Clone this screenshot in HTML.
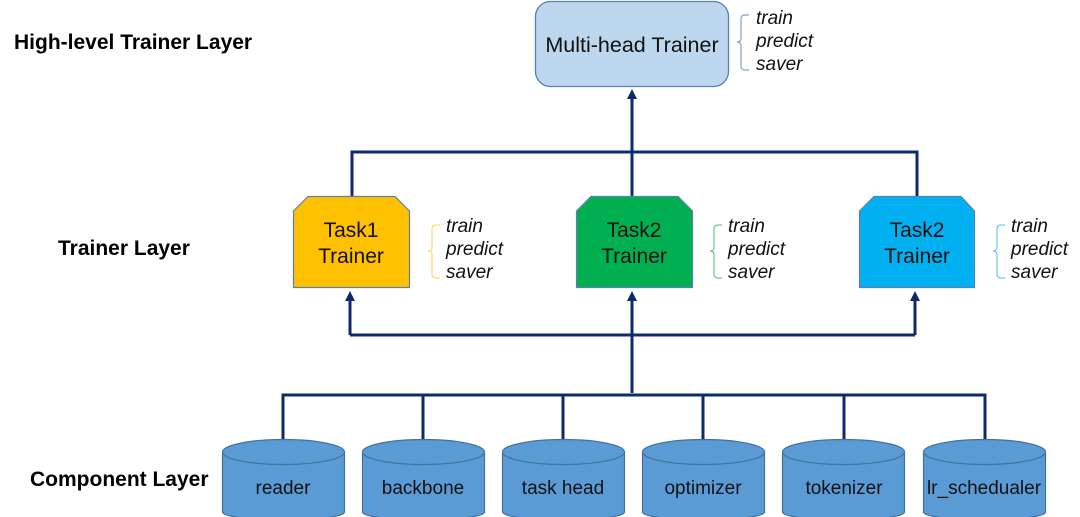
<!DOCTYPE html>
<html><head><meta charset="utf-8"><style>
html,body{margin:0;padding:0;background:#fff;width:1080px;height:517px;overflow:hidden}
svg{display:block}
text{font-family:"Liberation Sans",Arial,sans-serif}
</style></head><body>
<svg width="1080" height="517" viewBox="0 0 1080 517" xmlns="http://www.w3.org/2000/svg">
<defs>
<marker id="ar" markerWidth="10" markerHeight="10" refX="5" refY="5" orient="auto" markerUnits="userSpaceOnUse">
<path d="M0,0 L10,5 L0,10 z" fill="#0f2a6b"/>
</marker>
</defs>
<g font-weight="bold" font-size="21" fill="#000">
<text x="14" y="49">High-level Trainer Layer</text>
<text x="58" y="255">Trainer Layer</text>
<text x="30" y="486">Component Layer</text>
</g>
<rect x="535.5" y="1.5" width="193" height="85" rx="15" fill="#bdd7ee" stroke="#5b7fb0" stroke-width="1.3"/>
<text x="632" y="52" font-size="21.5" text-anchor="middle" fill="#111">Multi-head Trainer</text>
<g stroke="#0f2a6b" stroke-width="3" fill="none">
<path d="M352,196 V152 H917 V196"/>
<path d="M632,196 V94" marker-end="url(#ar)"/>
<path d="M350,335 H915"/>
<path d="M350,335 V296" marker-end="url(#ar)"/>
<path d="M915,335 V296" marker-end="url(#ar)"/>
<path d="M632,393 V296" marker-end="url(#ar)"/>
<path d="M283,440 V395 H985 V440"/>
<path d="M423,395 V440 M563,395 V440 M703,395 V440 M844,395 V440"/>
</g>
<g stroke="#5b7fb0" stroke-width="1.2">
<path d="M293.5,211 L308,196.5 H395 L409.5,211 V287.5 H293.5 Z" fill="#ffc000"/>
<path d="M576.5,211 L591,196.5 H678 L692.5,211 V287.5 H576.5 Z" fill="#00b050"/>
<path d="M859.5,211 L874,196.5 H961 L974.5,211 V287.5 H859.5 Z" fill="#00b0f0"/>
</g>
<g font-size="21" text-anchor="middle" fill="#111">
<text x="351" y="237">Task1</text><text x="351" y="263">Trainer</text>
<text x="634" y="237">Task2</text><text x="634" y="263">Trainer</text>
<text x="917" y="237">Task2</text><text x="917" y="263">Trainer</text>
</g>
<g fill="none" stroke-width="1.2">
<path d="M749,15 H745 Q741,15 741,19 V38 Q741,42 737,42 Q741,42 741,46 V66 Q741,70 745,70 H749" stroke="#7fa3cf"/>
<path d="M440,225 H436 Q432,225 432,229 V247 Q432,251 428,251 Q432,251 432,255 V274 Q432,278 436,278 H440" stroke="#ffd966"/>
<path d="M722,225 H718 Q714,225 714,229 V247 Q714,251 710,251 Q714,251 714,255 V274 Q714,278 718,278 H722" stroke="#66cc88"/>
<path d="M1005,225 H1001 Q997,225 997,229 V247 Q997,251 993,251 Q997,251 997,255 V274 Q997,278 1001,278 H1005" stroke="#66ccf5"/>
</g>
<g font-size="19" font-style="italic" fill="#111">
<text x="756" y="24">train</text><text x="756" y="47">predict</text><text x="756" y="70">saver</text>
<text x="446" y="232">train</text><text x="446" y="255">predict</text><text x="446" y="278">saver</text>
<text x="728" y="232">train</text><text x="728" y="255">predict</text><text x="728" y="278">saver</text>
<text x="1011" y="232">train</text><text x="1011" y="255">predict</text><text x="1011" y="278">saver</text>
</g>
<g stroke="#41719c" stroke-width="1.2" fill="#5b9bd5">
<g id="c"><path d="M222.5,452 V512 A61,8 0 0 0 344.5,512 V452"/><ellipse cx="283.5" cy="452" rx="61" ry="12.5"/></g>
<use href="#c" x="140"/><use href="#c" x="280"/><use href="#c" x="420"/><use href="#c" x="560"/><use href="#c" x="701"/>
</g>
<g font-size="19" text-anchor="middle" fill="#111">
<text x="283" y="494">reader</text>
<text x="423" y="494">backbone</text>
<text x="563" y="494">task head</text>
<text x="703" y="494">optimizer</text>
<text x="844" y="494">tokenizer</text>
<text x="984" y="494">lr_schedualer</text>
</g>
</svg>
</body></html>
